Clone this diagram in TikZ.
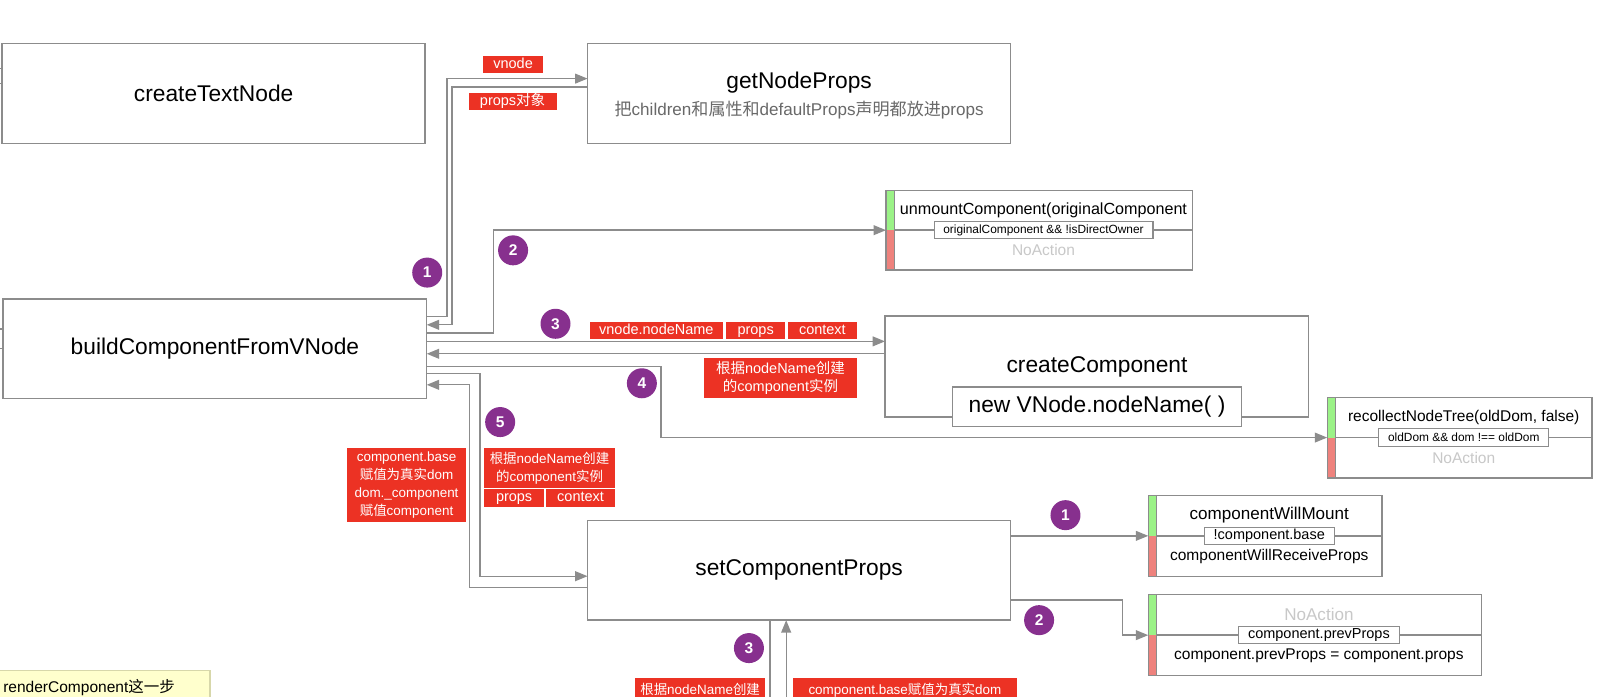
\documentclass[tikz,border=0pt]{standalone}
\usepackage{fontspec}
\setmainfont{Liberation Sans}
\newfontfamily\cjkfont{Noto Sans CJK SC}
\usetikzlibrary{arrows.meta,calc}

\definecolor{linegray}{RGB}{140,140,140}
\definecolor{tagred}{RGB}{236,50,36}
\definecolor{badgepurple}{RGB}{135,48,142}
\definecolor{stripegreen}{RGB}{155,242,135}
\definecolor{stripered}{RGB}{238,130,125}
\definecolor{subgray}{RGB}{105,105,105}
\definecolor{nagray}{RGB}{200,200,200}
\definecolor{notefill}{RGB}{255,255,205}
\definecolor{noteline}{RGB}{215,215,170}

\newcommand{\zh}[1]{{\cjkfont #1}}

\tikzset{
  frame/.style={fill=white, inner sep=0pt, outer sep=0pt},
  box/.style={frame, draw=linegray, line width=1.3pt, font=\fontsize{22}{26}\selectfont},
  big/.style={font=\fontsize{22}{26}\selectfont},
  wire/.style={draw=linegray, line width=1.3pt},
  arr/.style={wire, -{Triangle[length=12pt,width=9.5pt]}},
  tag/.style={fill=tagred, text=white, inner sep=0pt, align=center, font=\fontsize{14}{18}\selectfont},
  oneline/.style={text height=10.5pt, text depth=3pt},
  smalltag/.style={tag, font=\fontsize{13}{17.5}\selectfont},
  badge/.style={circle, fill=badgepurple, text=white, minimum size=29pt, inner sep=0pt, font=\bfseries\fontsize{15}{15}\selectfont},
  cond/.style={draw=linegray, line width=1pt, fill=white, inner xsep=9pt, inner ysep=0pt, minimum height=17pt, font=\fontsize{11.5}{13}\selectfont},
  dtitle/.style={font=\fontsize{16}{19}\selectfont},
  dbottom/.style={font=\fontsize{15}{18}\selectfont},
}

% decision box: name, centre, width, height, top text, condition, bottom text
\newcommand{\choicebox}[7]{%
  \node[frame, minimum width=#3, minimum height=#4] (#1) at (#2) {};
  \fill[stripegreen] (#1.north west) rectangle ([xshift=8pt]#1.west);
  \fill[stripered] (#1.west) rectangle ([xshift=8pt]#1.south west);
  \draw[wire] ([xshift=8pt]#1.north west) -- ([xshift=8pt]#1.south west)
    ([xshift=8pt]#1.west) -- (#1.east)
    (#1.north west) rectangle (#1.south east);
  \node[dtitle] (#1-top) at ($(#1.north)!.5!(#1.center)+(4pt,0pt)$) {#5};
  \node[dbottom] (#1-bot) at ($(#1.south)!.5!(#1.center)+(4pt,0pt)$) {#7};
  \node[cond] (#1-cond) at ([xshift=4pt]#1.center) {#6};
}

\begin{document}
\begin{tikzpicture}[x=1pt, y=-1pt]
  \useasboundingbox (0,0) rectangle (1568,673);
  \clip (0,0) rectangle (1568,673);
  \fill[white] (0,0) rectangle (1568,673);

  % main boxes
  \node[box, minimum width=409pt, minimum height=97pt] (textnode) at (206.5,90.5) {createTextNode};
  \node[box, minimum width=409pt, minimum height=97pt] (getprops) at (772.5,90.5) {};
  \node[big] (getprops-title) at (772.5,80) {getNodeProps};
  \node[font=\fontsize{16.5}{20}\selectfont, text=subgray] (getprops-sub) at (772.5,106)
    {\zh{把}children\zh{和属性和}defaultProps\zh{声明都放进}props};
  \node[box, minimum width=409.5pt, minimum height=96pt] (build) at (207.75,337) {buildComponentFromVNode};
  \node[box, minimum width=409.5pt, minimum height=97.5pt] (create) at (1060.3,354.25) {};
  \node[big] (create-title) at (1060.5,355) {createComponent};
  \node[box, minimum width=279pt, minimum height=38pt] (newinst) at (1060.5,393) {new VNode.nodeName( )};
  \node[box, minimum width=409pt, minimum height=96.5pt] (setprops) at (772.5,551.25) {setComponentProps};

  % decision boxes
  \choicebox{unmount}{1004.75,222.5}{296.5pt}{77pt}{\fontsize{15.6}{19}\selectfont unmountComponent(originalComponent}
    {originalComponent \&\& !isDirectOwner}{\color{nagray}NoAction}
  \choicebox{recollect}{1411,423}{256pt}{78pt}{\fontsize{15}{18}\selectfont recollectNodeTree(oldDom, false)}
    {oldDom \&\& dom !== oldDom}{\color{nagray}NoAction}
  \choicebox{willmount}{1223,518}{226pt}{78.5pt}{\fontsize{16.5}{19}\selectfont componentWillMount}
    {\fontsize{14}{16}\selectfont !component.base}{componentWillReceiveProps}
  \choicebox{prevprops}{1271,614}{322pt}{78.5pt}{\fontsize{16.5}{19}\selectfont\color{nagray}NoAction}
    {\fontsize{14}{16}\selectfont component.prevProps}{component.prevProps = component.props}

  % stubs from the left edge
  \coordinate (offa) at (-4,66);
  \coordinate (offb) at (-4,80.5);
  \coordinate (offc) at (-4,318);
  \coordinate (offd) at (-4,337);
  \draw[wire] (offa) -- (offa -| textnode.west) (offb) -- (offb -| textnode.west);
  \draw[wire] (offc) -- (offc -| build.west) (offd) -- (offd -| build.west);

  % connectors
  \draw[arr] (build.east |- 0,306) -| (432,76) -- (getprops.west |- 0,76);
  \draw[arr] (getprops.west |- 0,84) -| (437,314) -- (build.east |- 0,314);
  \draw[arr] (build.east |- 0,322) -| (unmount.west -| 477,0) -- (unmount.west);
  \draw[arr] (build.east |- 0,330) -- (create.west |- 0,330);
  \draw[arr] (create.west |- 0,342) -- (build.east |- 0,342);
  \draw[arr] (build.east |- 0,354) -| (recollect.west -| 639,0) -- (recollect.west);
  \draw[arr] (build.east |- 0,361) -| (464,557) -- (setprops.west |- 0,557);
  \draw[arr] (setprops.west |- 0,568) -| (454,372) -- (build.east |- 0,372);
  \draw[arr] (setprops.east |- 0,518) -- (willmount.west);
  \draw[arr] (setprops.east |- 0,580) -| (prevprops.west -| 1085,0) -- (prevprops.west);
  \coordinate (downend) at (744.5,690);
  \coordinate (upstart) at (760,690);
  \draw[wire] (setprops.south -| downend) -- (downend);
  \draw[arr] (upstart) -- (setprops.south -| upstart);

  % labels
  \node[tag, oneline, minimum width=58pt, minimum height=16.5pt] (tvnode) at (496,62.3) {vnode};
  \node[tag, oneline, minimum width=85pt, minimum height=16.5pt] (tpropsobj) at (495.5,97.8) {props\zh{对象}};
  \node[tag, oneline, minimum width=129pt, minimum height=17pt] (tname) at (634.5,319.5) {vnode.nodeName};
  \node[tag, oneline, minimum width=57pt, minimum height=17pt] (tprops) at (730.5,319.5) {props};
  \node[tag, oneline, minimum width=66pt, minimum height=17pt] (tcontext) at (795,319.5) {context};
  \node[tag, minimum width=147pt, minimum height=39pt] (tnewinst) at (754.5,365.5)
    {\zh{根据}nodeName\zh{创建}\\\zh{的}component\zh{实例}};
  \node[smalltag, minimum width=115pt, minimum height=72pt] (tbase) at (393,469)
    {component.base\\\zh{赋值为真实}dom\\dom.\_component\\\zh{赋值}component};
  \node[smalltag, minimum width=126.5pt, minimum height=38.5pt] (tinst) at (531.25,452.25)
    {\zh{根据}nodeName\zh{创建}\\\zh{的}component\zh{实例}};
  \node[tag, oneline, minimum width=58pt, minimum height=17pt] (tprops2) at (497,481.5) {props};
  \node[tag, oneline, minimum width=66.5pt, minimum height=17pt] (tcontext2) at (561.25,481.5) {context};
  \node[smalltag, oneline, minimum width=125.6pt, minimum height=24pt, anchor=north] (tinst2) at (676.8,655.5)
    {\zh{根据}nodeName\zh{创建}};
  \node[smalltag, oneline, minimum width=216.4pt, minimum height=24pt, anchor=north] (tbase2) at (874.8,655.5)
    {component.base\zh{赋值为真实}dom};

  % step badges
  \foreach \name/\x/\y/\num in {b1/413/263.5/1, b2/496/242/2, b3/537/313/3, b4/620.5/370.5/4,
      b5/483.5/408/5, s1/1030/498/1, s2/1004.5/599.5/2, s3/724/626.5/3}
    \node[badge] (\name) at (\x,\y) {\num};

  % note
  \node[frame, draw=noteline, fill=notefill, line width=1pt, minimum width=215pt, minimum height=45pt,
    anchor=north west] (note) at (-12,648) {};
  \node[anchor=west, inner sep=0pt, font=\fontsize{15}{18}\selectfont] (notetext) at (3,665)
    {renderComponent\zh{这一步}};
\end{tikzpicture}
\end{document}
